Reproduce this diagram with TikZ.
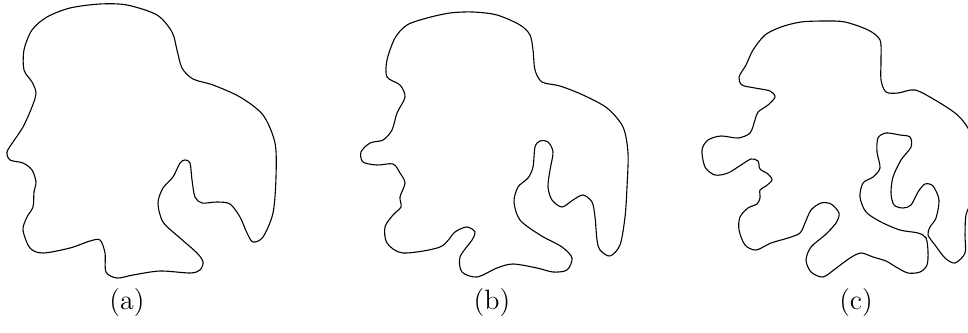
\documentclass[tikz,border=0pt]{standalone}
\usepackage{tikz}

\begin{document}
\begin{tikzpicture}[
  x=0.5pt, y=-0.5pt,
  blob/.style={draw=black, line width=0.55pt},
  lbl/.style ={font=\fontsize{14}{16}\selectfont, inner sep=0pt},
]
  \useasboundingbox (0,0) rectangle (968,332);
  \clip (0,0) rectangle (968,332);

  % (a)
  \draw[blob] plot[smooth cycle] coordinates {
    (100,4) (127,5) (157,15) (172,32) (177,50) (182,68) (193,79) (213,85)
    (240,97) (263,115) (275,143) (276,177) (273,213) (263,237) (253,242)
    (247,233) (240,217) (230,204) (217,202) (202,203) (195,197) (192,180)
    (190,163) (185,160) (180,163) (173,177) (163,188) (158,203) (163,222)
    (180,238) (197,253) (203,262) (200,270) (190,273) (160,271) (133,275)
    (117,278) (106,272) (105,253) (100,240) (90,241) (70,248) (43,253)
    (30,248) (23,230) (27,217) (33,207) (34,192) (36,182) (32,170) (23,163)
    (10,160) (7,152) (13,142) (23,127) (32,107) (36,93) (32,82) (24,70)
    (24,50) (32,30) (47,17) (70,8)};

  % (b)
  \draw[blob] plot[smooth cycle] coordinates {
    (473,12) (497,15) (520,25) (530,35) (533,50) (535,70) (542,82) (560,86)
    (583,95) (607,108) (623,127) (628,153) (627,187) (625,217) (620,245)
    (610,256) (600,250) (597,240) (595,217) (592,202) (583,195) (573,200)
    (562,207) (552,200) (548,187) (550,170) (553,152) (548,142) (540,141)
    (535,147) (533,167) (528,178) (518,187) (514,202) (520,220) (540,235)
    (562,247) (572,258) (567,270) (553,272) (537,268) (513,264) (497,268)
    (477,277) (462,272) (460,257) (472,240) (475,232) (467,227) (455,232)
    (440,247) (403,253) (387,243) (385,227) (393,215) (401,207) (400,197)
    (405,183) (400,173) (393,164) (377,165) (363,162) (361,152) (370,143)
    (383,140) (392,130) (397,113) (405,97) (400,85) (387,77) (387,60)
    (395,38) (407,25) (427,18) (450,13)};

  % (c)
  \draw[blob] plot[smooth cycle] coordinates {
    (801,22) (825,21) (845,22) (868,30) (880,40) (881,60) (881,80) (886,92)
    (898,93) (915,90) (935,100) (955,113) (966,125) (976,145) (980,175)
    (972,200) (966,215) (965,235) (965,253) (955,263) (945,258) (935,245)
    (928,235) (930,227) (936,218) (939,200) (933,186) (925,184) (918,192)
    (911,205) (903,208) (894,205) (891,193) (893,177) (901,160) (911,147)
    (910,137) (900,135) (886,133) (878,138) (877,152) (880,168) (873,177)
    (863,183) (860,197) (866,212) (881,222) (900,230) (918,233) (926,238)
    (928,252) (927,265) (920,272) (908,273) (896,267) (886,261) (873,257)
    (861,253) (850,258) (835,269) (823,277) (811,272) (806,260) (811,247)
    (825,235) (836,223) (839,213) (831,204) (821,203) (811,210) (805,223)
    (800,233) (788,238) (771,243) (756,250) (745,245) (739,230) (740,217)
    (748,208) (757,204) (760,198) (760,190) (766,186) (772,180) (768,174)
    (760,169) (758,161) (751,159) (741,165) (728,173) (715,175) (705,167)
    (702,150) (708,140) (721,136) (738,138) (750,133) (755,120) (758,112)
    (768,105) (775,97) (770,91) (755,88) (742,85) (739,77) (746,65)
    (753,50) (765,35) (781,27)};

  \node[lbl] (la) at (127,303) {(a)};
  \node[lbl] (lb) at (492,303) {(b)};
  \node[lbl] (lc) at (856,303) {(c)};
\end{tikzpicture}
\end{document}
